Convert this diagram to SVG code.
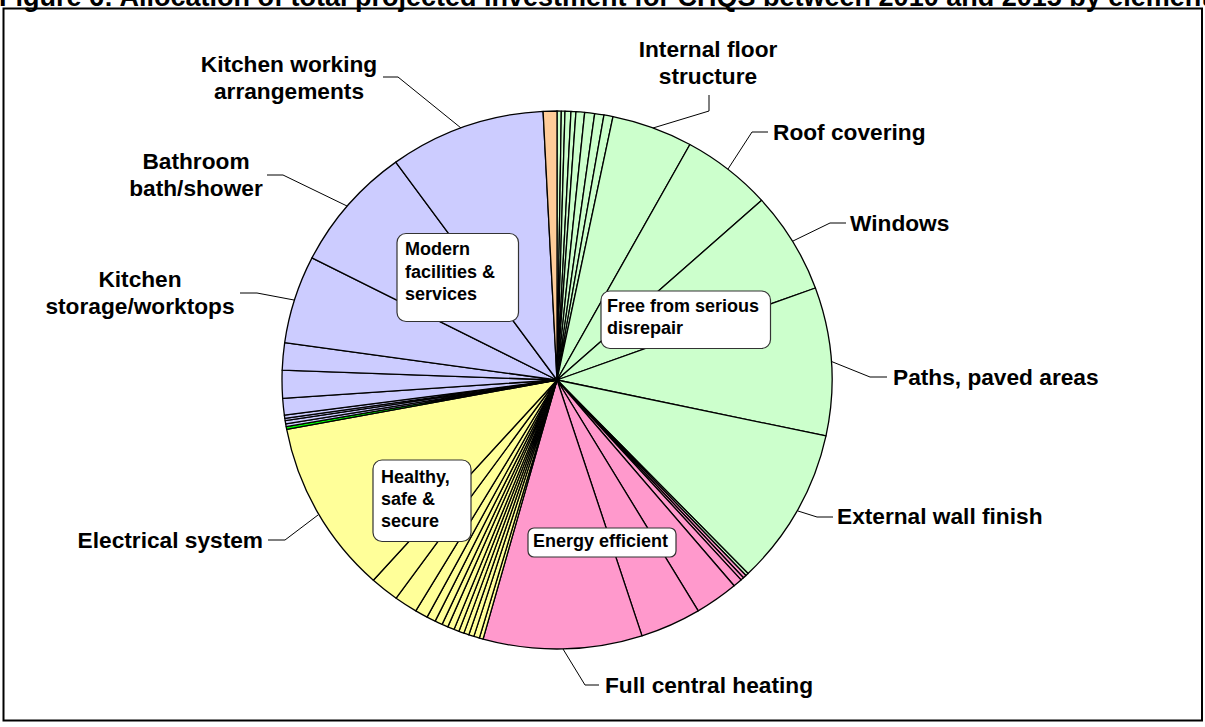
<svg xmlns="http://www.w3.org/2000/svg" width="1205" height="727" viewBox="0 0 1205 727">
<style>
.s{stroke:#000;stroke-width:1.3;stroke-linejoin:round}
.g{fill:#CCFFCC}.p{fill:#FF99CC}.y{fill:#FFFF99}.l{fill:#CCCCFF}.o{fill:#FFCC99}.b{fill:#00FF00}
.lead{fill:none;stroke:#000;stroke-width:1}
.big{font-family:"Liberation Sans",Arial,sans-serif;font-weight:bold;font-size:22.7px;fill:#000}
.sm{font-family:"Liberation Sans",Arial,sans-serif;font-weight:bold;font-size:18px;fill:#000}
.box{fill:#fff;stroke:#333;stroke-width:1.2}
</style>
<rect width="1205" height="727" fill="#fff"/>
<text x="-1" y="6" font-family="Liberation Sans, Arial, sans-serif" font-weight="bold" font-size="27">Figure 6: Allocation of total projected investment for CHQS between 2010 and 2015 by element</text>
<rect x="3.5" y="8.5" width="1198.5" height="712" fill="none" stroke="#000" stroke-width="2"/>
<g id="pie" class="s">
<path class="g" d="M557 380L557 111A275 269 0 0 1 561.32 111.03Z"/>
<path class="g" d="M557 380L561.32 111.03A275 269 0 0 1 565.01 111.11Z"/>
<path class="g" d="M557 380L565.01 111.11A275 269 0 0 1 571.01 111.35Z"/>
<path class="g" d="M557 380L571.01 111.35A275 269 0 0 1 575.99 111.64Z"/>
<path class="g" d="M557 380L575.99 111.64A275 269 0 0 1 584.70 112.37Z"/>
<path class="g" d="M557 380L584.70 112.37A275 269 0 0 1 594.70 113.54Z"/>
<path class="g" d="M557 380L594.70 113.54A275 269 0 0 1 604.00 114.96Z"/>
<path class="g" d="M557 380L604.00 114.96A275 269 0 0 1 613.00 116.64Z"/>
<path class="g" d="M557 380L613.00 116.64A275 269 0 0 1 689.90 144.50Z"/>
<path class="g" d="M557 380L689.90 144.50A275 269 0 0 1 761.69 200.35Z"/>
<path class="g" d="M557 380L761.69 200.35A275 269 0 0 1 815.42 288.00Z"/>
<path class="g" d="M557 380L815.42 288.00A275 269 0 0 1 825.99 435.93Z"/>
<path class="g" d="M557 380L825.99 435.93A275 269 0 0 1 748.03 573.50Z"/>
<path class="g" d="M557 380L748.03 573.50A275 269 0 0 1 745.95 575.45Z"/>
<path class="p" d="M557 380L745.95 575.45A275 269 0 0 1 743.49 577.69Z"/>
<path class="p" d="M557 380L743.49 577.69A275 269 0 0 1 741.01 579.91Z"/>
<path class="p" d="M557 380L741.01 579.91A275 269 0 0 1 734.13 585.76Z"/>
<path class="p" d="M557 380L734.13 585.76A275 269 0 0 1 698.22 610.82Z"/>
<path class="p" d="M557 380L698.22 610.82A275 269 0 0 1 641.98 635.83Z"/>
<path class="p" d="M557 380L641.98 635.83A275 269 0 0 1 483.05 639.09Z"/>
<path class="y" d="M557 380L483.05 639.09A275 269 0 0 1 479.36 638.06Z"/>
<path class="y" d="M557 380L479.36 638.06A275 269 0 0 1 473.85 636.41Z"/>
<path class="y" d="M557 380L473.85 636.41A275 269 0 0 1 468.83 634.80Z"/>
<path class="y" d="M557 380L468.83 634.80A275 269 0 0 1 463.85 633.10Z"/>
<path class="y" d="M557 380L463.85 633.10A275 269 0 0 1 458.90 631.30Z"/>
<path class="y" d="M557 380L458.90 631.30A275 269 0 0 1 453.98 629.41Z"/>
<path class="y" d="M557 380L453.98 629.41A275 269 0 0 1 447.78 626.88Z"/>
<path class="y" d="M557 380L447.78 626.88A275 269 0 0 1 442.09 624.39Z"/>
<path class="y" d="M557 380L442.09 624.39A275 269 0 0 1 435.16 621.15Z"/>
<path class="y" d="M557 380L435.16 621.15A275 269 0 0 1 427.05 617.07Z"/>
<path class="y" d="M557 380L427.05 617.07A275 269 0 0 1 415.78 610.82Z"/>
<path class="y" d="M557 380L415.78 610.82A275 269 0 0 1 396.14 598.18Z"/>
<path class="y" d="M557 380L396.14 598.18A275 269 0 0 1 373.35 580.22Z"/>
<path class="y" d="M557 380L373.35 580.22A275 269 0 0 1 286.69 429.48Z"/>
<path class="b" d="M557 380L286.69 429.48A275 269 0 0 1 286.18 426.71Z"/>
<path class="l" d="M557 380L286.18 426.71A275 269 0 0 1 285.69 423.94Z"/>
<path class="l" d="M557 380L285.69 423.94A275 269 0 0 1 285.16 420.69Z"/>
<path class="l" d="M557 380L285.16 420.69A275 269 0 0 1 284.81 418.37Z"/>
<path class="l" d="M557 380L284.81 418.37A275 269 0 0 1 284.35 415.11Z"/>
<path class="l" d="M557 380L284.35 415.11A275 269 0 0 1 282.64 398.30Z"/>
<path class="l" d="M557 380L282.64 398.30A275 269 0 0 1 282.18 370.14Z"/>
<path class="l" d="M557 380L282.18 370.14A275 269 0 0 1 284.68 342.56Z"/>
<path class="l" d="M557 380L284.68 342.56A275 269 0 0 1 311.97 257.88Z"/>
<path class="l" d="M557 380L311.97 257.88A275 269 0 0 1 395.75 162.10Z"/>
<path class="l" d="M557 380L395.75 162.10A275 269 0 0 1 543.09 111.34Z"/>
<path class="o" d="M557 380L543.09 111.34A275 269 0 0 1 557 111Z"/>
</g>
<g id="connectors" class="lead">
<path d="M461 128L398 77L383 77"/>
<path d="M347 206L283 175L267 175"/>
<path d="M294 300L257 293L240 293"/>
<path d="M318 515L285 540L268 540"/>
<path d="M563 649L585 685L599 685"/>
<path d="M798 511L817 517L833 517"/>
<path d="M831.5 361.5L870 377L887 377"/>
<path d="M793 241L830 223L846 223"/>
<path d="M728 169L752 132L768 132"/>
<path d="M653 128L709 111L709 95"/>
</g>
<g id="label-kitchen-working" class="big" text-anchor="middle"><text x="289" y="72">Kitchen working</text><text x="289" y="99">arrangements</text></g>
<g id="label-bathroom" class="big" text-anchor="middle"><text x="196" y="169">Bathroom</text><text x="196" y="196">bath/shower</text></g>
<g id="label-kitchen-storage" class="big" text-anchor="middle"><text x="140" y="287">Kitchen</text><text x="140" y="314">storage/worktops</text></g>
<g id="label-electrical" class="big"><text x="263" y="548" text-anchor="end">Electrical system</text></g>
<g id="label-central-heating" class="big"><text x="605" y="693">Full central heating</text></g>
<g id="label-external-wall" class="big"><text x="837" y="524">External wall finish</text></g>
<g id="label-paths" class="big"><text x="893" y="385">Paths, paved areas</text></g>
<g id="label-windows" class="big"><text x="850" y="230.5">Windows</text></g>
<g id="label-roof" class="big"><text x="773" y="139.5">Roof covering</text></g>
<g id="label-internal-floor" class="big" text-anchor="middle"><text x="708" y="57">Internal floor</text><text x="708" y="84">structure</text></g>
<g id="box-modern"><rect class="box" x="397" y="233.5" width="121.5" height="88" rx="9"/><g class="sm"><text x="405" y="255">Modern</text><text x="405" y="277.5">facilities &amp;</text><text x="405" y="300">services</text></g></g>
<g id="box-disrepair"><rect class="box" x="601" y="291" width="169.5" height="57.5" rx="9"/><g class="sm"><text x="607" y="311.5">Free from serious</text><text x="607" y="333.5">disrepair</text></g></g>
<g id="box-healthy"><rect class="box" x="373" y="460" width="98" height="81.5" rx="9"/><g class="sm"><text x="381" y="483">Healthy,</text><text x="381" y="505">safe &amp;</text><text x="381" y="527">secure</text></g></g>
<g id="box-energy"><rect class="box" x="528" y="528" width="148" height="29" rx="6"/><g class="sm"><text x="533" y="547">Energy efficient</text></g></g>
</svg>
